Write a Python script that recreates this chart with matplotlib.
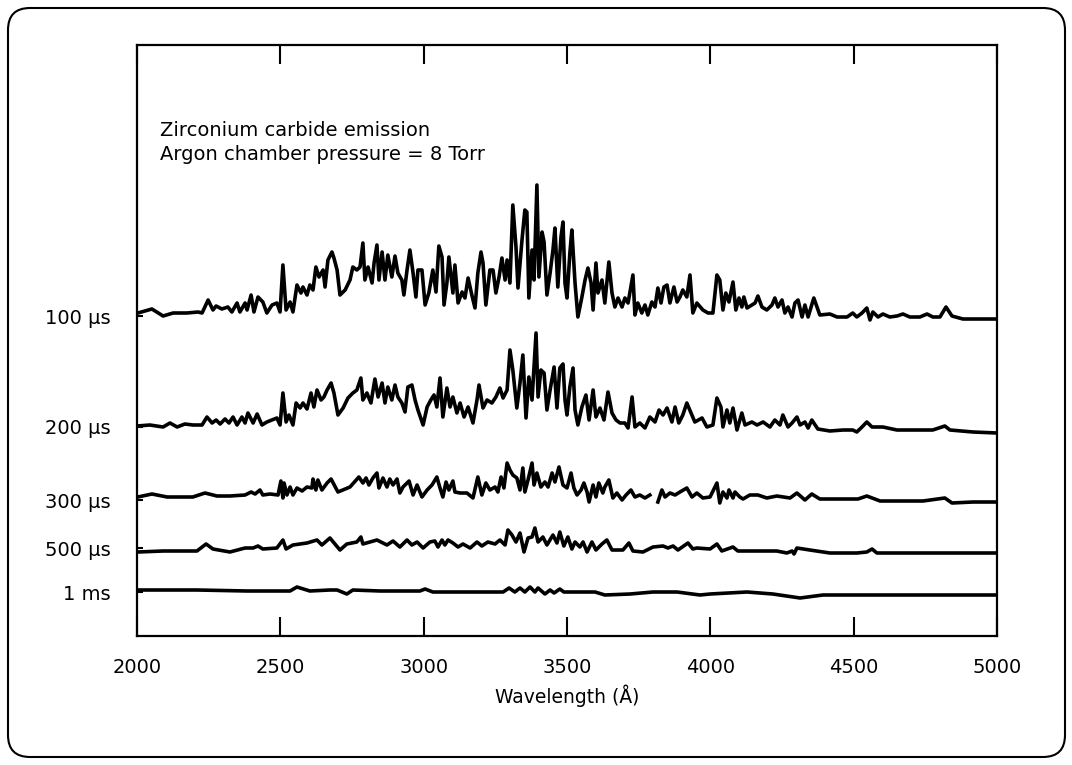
import numpy as np
import matplotlib
matplotlib.use("Agg")
import matplotlib.pyplot as plt
import matplotlib.patches as mpatches
from matplotlib.transforms import IdentityTransform

# wavelength (A) and signal above each trace's baseline (arb. units)
w100 = [2003, 2052, 2091, 2126, 2174, 2213, 2227, 2248, 2265, 2276,
        2296, 2317, 2331, 2349, 2359, 2377, 2384, 2398, 2408, 2422,
        2439, 2453, 2471, 2488, 2499, 2509, 2520, 2534, 2544, 2558,
        2572, 2579, 2593, 2603, 2614, 2624, 2635, 2649, 2656, 2666,
        2680, 2687, 2698, 2708, 2726, 2743, 2753, 2767, 2778, 2788,
        2795, 2806, 2820, 2827, 2837, 2844, 2855, 2865, 2875, 2889,
        2900, 2910, 2924, 2931, 2942, 2952, 2963, 2973, 2980, 2994,
        3005, 3018, 3032, 3043, 3053, 3064, 3071, 3081, 3088, 3102,
        3109, 3120, 3134, 3144, 3155, 3168, 3179, 3189, 3200, 3207,
        3217, 3231, 3242, 3252, 3263, 3273, 3284, 3291, 3301, 3311,
        3322, 3329, 3343, 3353, 3360, 3367, 3378, 3385, 3395, 3402,
        3413, 3420, 3430, 3441, 3451, 3458, 3468, 3479, 3486, 3493,
        3500, 3510, 3517, 3528, 3538, 3552, 3563, 3573, 3584, 3591,
        3601, 3608, 3622, 3632, 3646, 3657, 3667, 3678, 3692, 3702,
        3713, 3730, 3737, 3747, 3761, 3772, 3782, 3796, 3807, 3817,
        3828, 3838, 3849, 3859, 3873, 3884, 3894, 3904, 3918, 3929,
        3939, 3953, 3974, 3992, 4009, 4023, 4033, 4044, 4054, 4065,
        4079, 4089, 4100, 4110, 4117, 4128, 4145, 4156, 4166, 4180,
        4197, 4215, 4225, 4236, 4250, 4260, 4271, 4285, 4295, 4306,
        4320, 4330, 4341, 4361, 4382, 4417, 4442, 4477, 4497, 4511,
        4529, 4546, 4557, 4567, 4585, 4602, 4626, 4651, 4672, 4696,
        4731, 4756, 4776, 4801, 4822, 4843, 4881, 5000]
s100 = [7, 11, 4, 7, 7, 8, 7, 20, 10, 14,
        11, 13, 8, 17, 8, 17, 10, 25, 8, 23,
        18, 7, 15, 17, 8, 55, 10, 18, 8, 35,
        27, 33, 25, 35, 30, 53, 43, 50, 33, 60,
        68, 62, 50, 25, 30, 40, 53, 50, 53, 77,
        40, 53, 37, 57, 75, 40, 68, 40, 65, 43,
        64, 47, 40, 25, 50, 70, 47, 23, 50, 50,
        15, 27, 50, 28, 74, 63, 15, 37, 63, 27,
        55, 17, 28, 22, 42, 25, 12, 47, 68, 57,
        15, 50, 50, 27, 43, 62, 40, 60, 37, 115,
        73, 32, 80, 110, 108, 22, 70, 40, 135, 43,
        88, 78, 25, 47, 70, 92, 33, 83, 98, 37,
        22, 67, 90, 37, 3, 23, 40, 52, 37, 10,
        57, 27, 40, 17, 58, 27, 13, 22, 13, 22,
        17, 45, 5, 17, 7, 15, 5, 18, 13, 32,
        17, 33, 35, 17, 33, 18, 23, 30, 23, 45,
        7, 17, 10, 7, 7, 45, 40, 10, 27, 18,
        38, 10, 22, 13, 23, 12, 15, 17, 24, 13,
        10, 15, 22, 13, 20, 7, 13, 3, 17, 20,
        3, 15, 3, 22, 5, 6, 3, 3, 7, 3,
        7, 12, 0, 8, 3, 6, 3, 4, 6, 3,
        3, 6, 3, 3, 13, 4, 1, 1]

w200 = [2000, 2045, 2091, 2115, 2140, 2167, 2195, 2227, 2244, 2262,
        2276, 2290, 2307, 2321, 2335, 2349, 2366, 2377, 2387, 2405,
        2419, 2436, 2453, 2471, 2488, 2499, 2509, 2520, 2530, 2544,
        2555, 2569, 2579, 2593, 2607, 2617, 2628, 2642, 2652, 2663,
        2677, 2687, 2701, 2719, 2736, 2753, 2767, 2781, 2788, 2802,
        2816, 2830, 2841, 2855, 2865, 2875, 2889, 2900, 2910, 2924,
        2935, 2945, 2959, 2970, 2980, 2998, 3012, 3025, 3036, 3046,
        3057, 3067, 3081, 3092, 3102, 3116, 3127, 3141, 3155, 3172,
        3186, 3193, 3207, 3221, 3238, 3252, 3266, 3277, 3291, 3301,
        3311, 3325, 3336, 3346, 3357, 3367, 3378, 3392, 3399, 3409,
        3420, 3430, 3441, 3455, 3465, 3475, 3486, 3493, 3500, 3510,
        3521, 3528, 3538, 3552, 3566, 3577, 3591, 3601, 3615, 3629,
        3643, 3657, 3671, 3685, 3702, 3713, 3727, 3737, 3754, 3772,
        3789, 3807, 3821, 3835, 3849, 3866, 3877, 3890, 3904, 3918,
        3946, 3971, 3988, 4009, 4023, 4037, 4044, 4058, 4068, 4079,
        4093, 4110, 4121, 4145, 4163, 4184, 4208, 4225, 4243, 4253,
        4271, 4285, 4302, 4313, 4330, 4341, 4354, 4375, 4417, 4463,
        4497, 4511, 4529, 4546, 4564, 4602, 4651, 4721, 4776, 4818,
        4836, 4916, 5000]
s200 = [6, 7, 5, 9, 5, 8, 7, 7, 15, 9,
        12, 8, 13, 9, 15, 7, 15, 9, 19, 9,
        18, 7, 10, 12, 14, 7, 39, 10, 17, 7,
        29, 24, 29, 23, 39, 25, 42, 32, 35, 42,
        49, 39, 17, 24, 34, 39, 42, 54, 32, 39,
        29, 53, 35, 49, 29, 45, 32, 47, 35, 29,
        20, 45, 47, 32, 22, 7, 25, 32, 37, 25,
        54, 15, 44, 25, 35, 19, 29, 15, 25, 9,
        32, 47, 24, 32, 29, 35, 44, 34, 42, 82,
        62, 24, 49, 77, 14, 55, 32, 99, 35, 62,
        59, 22, 42, 65, 24, 64, 68, 32, 17, 45,
        64, 22, 7, 25, 37, 12, 42, 15, 24, 12,
        40, 19, 12, 9, 9, 4, 35, 5, 9, 4,
        15, 10, 22, 17, 24, 10, 25, 9, 17, 29,
        10, 14, 5, 7, 34, 25, 5, 22, 9, 24,
        2, 19, 7, 10, 7, 10, 5, 12, 7, 17,
        5, 9, 15, 7, 10, 4, 12, 3, 1, 2,
        2, 0, 5, 10, 5, 5, 2, 2, 2, 6,
        2, 0, -1]

# the 300 us trace has a short break near 3800 A
w300 = [2003, 2052, 2105, 2150, 2195, 2237, 2279, 2324, 2377, 2398,
        2412, 2429, 2439, 2464, 2492, 2502, 2509, 2513, 2523, 2534,
        2544, 2558, 2576, 2593, 2610, 2614, 2624, 2631, 2645, 2663,
        2677, 2701, 2743, 2774, 2788, 2799, 2809, 2823, 2837, 2844,
        2858, 2872, 2882, 2893, 2907, 2917, 2928, 2949, 2963, 2977,
        2994, 3012, 3029, 3046, 3057, 3067, 3078, 3088, 3102, 3109,
        3127, 3151, 3172, 3189, 3203, 3217, 3231, 3249, 3259, 3270,
        3280, 3291, 3301, 3311, 3325, 3336, 3346, 3353, 3364, 3378,
        3385, 3395, 3409, 3423, 3434, 3448, 3458, 3472, 3486, 3500,
        3514, 3524, 3535, 3549, 3559, 3570, 3577, 3591, 3601, 3611,
        3625, 3632, 3646, 3660, 3674, 3692, 3706, 3723, 3737, 3754,
        3772, 3789, 3803, 3817, 3831, 3842, 3859, 3877, 3894, 3918,
        3936, 3953, 3974, 3999, 4023, 4033, 4044, 4058, 4065, 4079,
        4086, 4103, 4114, 4138, 4166, 4197, 4232, 4278, 4302, 4330,
        4354, 4382, 4452, 4515, 4546, 4592, 4672, 4742, 4794, 4818,
        4843, 4916, 5000]
s300 = [5, 8, 5, 5, 5, 9, 6, 6, 7, 10,
        8, 12, 7, 8, 7, 21, 4, 19, 7, 15,
        7, 14, 11, 15, 14, 23, 12, 22, 12, 19,
        23, 10, 15, 25, 19, 24, 17, 24, 29, 14,
        24, 15, 23, 17, 23, 9, 15, 21, 7, 17,
        5, 12, 17, 25, 14, 5, 20, 12, 21, 10,
        9, 9, 4, 25, 7, 19, 12, 15, 10, 25,
        14, 39, 32, 27, 24, 12, 34, 10, 22, 39,
        17, 29, 15, 20, 15, 29, 20, 35, 17, 14,
        29, 14, 7, 12, 19, 10, 0, 17, 5, 19,
        9, 15, 22, 4, 9, 2, 7, 12, 5, 7,
        4, 7, np.nan, 0, 12, 5, 9, 7, 10, 14,
        5, 9, 4, 5, 19, -1, 10, 4, 12, 4,
        10, 5, 3, 7, 7, 4, 6, 4, 9, 2,
        8, 3, 3, 3, 6, 1, 1, 1, 3, 4,
        -1, 0, 0]

w500 = [2003, 2091, 2209, 2241, 2265, 2324, 2377, 2405, 2422, 2439,
        2488, 2509, 2520, 2544, 2593, 2628, 2645, 2673, 2708, 2732,
        2767, 2781, 2788, 2837, 2872, 2893, 2917, 2942, 2959, 2977,
        2998, 3022, 3039, 3050, 3064, 3074, 3085, 3102, 3120, 3137,
        3162, 3186, 3203, 3224, 3249, 3266, 3284, 3294, 3308, 3322,
        3336, 3350, 3364, 3378, 3388, 3399, 3416, 3430, 3451, 3465,
        3475, 3489, 3503, 3517, 3528, 3545, 3556, 3570, 3587, 3601,
        3622, 3639, 3657, 3695, 3716, 3730, 3765, 3800, 3835, 3852,
        3870, 3887, 3922, 3939, 3953, 3999, 4023, 4040, 4079, 4096,
        4163, 4232, 4267, 4285, 4292, 4302, 4347, 4417, 4511, 4546,
        4564, 4581, 4686, 4860, 5000]
s500 = [1, 2, 2, 9, 4, 1, 5, 5, 7, 4,
        5, 13, 4, 8, 10, 13, 8, 15, 3, 9,
        11, 16, 9, 13, 8, 12, 6, 13, 8, 11,
        5, 11, 12, 6, 13, 8, 13, 10, 6, 9,
        5, 11, 7, 11, 9, 13, 8, 23, 18, 11,
        20, 1, 15, 16, 25, 11, 16, 8, 18, 10,
        21, 7, 16, 4, 11, 6, 11, 1, 11, 3,
        9, 13, 3, 3, 10, 2, 1, 6, 7, 5,
        7, 3, 10, 4, 5, 4, 9, 2, 6, 2,
        2, 2, 0, 2, -1, 5, 3, 0, 0, 1,
        4, 0, 0, 0, 0]

w1ms = [2003, 2209, 2384, 2534, 2558, 2603, 2673, 2698, 2732, 2753,
        2848, 2987, 3005, 3032, 3127, 3277, 3298, 3318, 3336, 3353,
        3371, 3388, 3399, 3423, 3441, 3455, 3475, 3489, 3556, 3598,
        3632, 3720, 3800, 3884, 3964, 3999, 4128, 4218, 4313, 4393,
        4626, 5000]
s1ms = [5, 5, 4, 4, 8, 4, 5, 5, 1, 5,
        4, 4, 6, 3, 3, 3, 7, 3, 7, 3,
        8, 3, 7, 1, 5, 2, 6, 3, 3, 3,
        0, 1, 3, 3, 0, 1, 3, 1, -3, 0,
        0, 0]

# vertical offset of each trace and where its label sits
offsets = [316, 204, 134, 83, 41]
label_pos = [320, 209, 136, 88, 44]
labels = ['100 µs', '200 µs', '300 µs', '500 µs', '1 ms']
xticks = [2000, 2500, 3000, 3500, 4000, 4500, 5000]

plt.rcParams['font.family'] = 'DejaVu Sans'

fig = plt.figure(figsize=(10.72, 7.65), dpi=100)
ax = fig.add_axes([137/1072, 1 - 636/765, 860/1072, 591/765])

traces = [(w100, s100), (w200, s200), (w300, s300), (w500, s500), (w1ms, s1ms)]
for (wl, sig), off in zip(traces, offsets):
    ax.plot(wl, np.array(sig, dtype=float) + off, color='black', lw=2.6,
            solid_joinstyle='round')

ax.set_xlim(2000, 5000)
ax.set_ylim(0, 591)
ax.set_xticks(xticks)
ax.tick_params(axis='x', direction='in', length=14, width=1.5, top=True,
               labelsize=14, pad=16)
ax.set_yticks(label_pos)
ax.set_yticklabels(labels)
ax.tick_params(axis='y', direction='in', length=4, width=1.5, labelsize=14, pad=19)
for sp in ax.spines.values():
    sp.set_linewidth(1.6)
ax.set_xlabel('Wavelength (Å)', fontsize=13.5, labelpad=5)

ax.text(0.027, 0.846, 'Zirconium carbide emission', transform=ax.transAxes,
        fontsize=14, va='baseline')
ax.text(0.027, 0.805, 'Argon chamber pressure = 8 Torr', transform=ax.transAxes,
        fontsize=14, va='baseline')

# rounded frame around the whole figure
frame = mpatches.FancyBboxPatch((8, 8), 1057, 749, boxstyle='round,pad=0,rounding_size=22',
                                fill=False, lw=1.5, edgecolor='black',
                                transform=IdentityTransform())
fig.add_artist(frame)

fig.savefig('out.png', dpi=100)
